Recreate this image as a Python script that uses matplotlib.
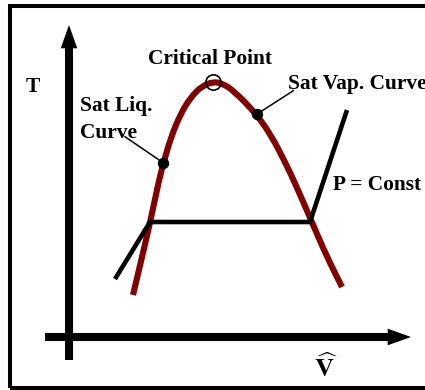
import matplotlib
matplotlib.use("Agg")
import matplotlib.pyplot as plt
from matplotlib.patches import Rectangle, Polygon, PathPatch
from matplotlib.path import Path

# ---- data (V, T) in chart units, origin at axis crossing ----
V_liq = [64, 73, 81, 90, 94.5, 102, 112, 122, 133, 144.5]
T_liq = [42, 80, 114, 157, 174, 200, 224, 240, 251, 255.3]
V_vap = [144.5, 153, 164, 187.7, 203, 215, 226, 242, 258, 273]
T_vap = [255.3, 253.5, 247, 222.7, 200, 177, 154, 117, 80, 50]

V_iso = [46, 81, 241, 278]
T_iso = [58, 115, 115, 227]

crit_pt = (144.5, 255.5)
liq_pt = (94.5, 174)
vap_pt = (187.7, 222.7)
liq_label_end = (56, 200.3)
vap_label_end = (224.3, 246.3)

labels = {
    "crit": ("Critical Point", 141.5, 272.5),
    "T": ("T", -36, 245.5),
    "liq1": ("Sat Liq.", 11, 226),
    "liq2": ("Curve", 11.5, 199.3),
    "vap": ("Sat Vap. Curve", 219.3, 248),
    "P": ("P = Const", 264.3, 147),
}

RED = "#800000"


def smooth_path(xs, ys):
    """Smooth quadratic path through the read points (drawn by matplotlib)."""
    pts = list(zip(xs, ys))
    verts = [pts[0]]
    codes = [Path.MOVETO]
    mid = lambda a, b: ((a[0] + b[0]) / 2, (a[1] + b[1]) / 2)
    verts.append(mid(pts[0], pts[1]))
    codes.append(Path.LINETO)
    for i in range(1, len(pts) - 1):
        verts += [pts[i], mid(pts[i], pts[i + 1])]
        codes += [Path.CURVE3, Path.CURVE3]
    verts.append(pts[-1])
    codes.append(Path.LINETO)
    return Path(verts, codes)


fig = plt.figure(figsize=(4.25, 3.9), dpi=100)
ax = fig.add_axes([0, 0, 1, 1])
ax.set_xlim(-69, 356)
ax.set_ylim(-53, 337)
ax.axis("off")

# frame
ax.add_patch(Rectangle((9.5 / 425, 1 - 388 / 390), 1.2, (388 - 5.7) / 390,
                       transform=ax.transAxes, fill=False, lw=2.9,
                       edgecolor="black", clip_on=False))

# axes arrows
ax.plot([0, 0], [-23, 289], color="black", lw=5.8, solid_capstyle="butt")
ax.add_patch(Polygon([[-8.3, 288.7], [8.3, 288.7], [0, 312]], closed=True,
                     color="black", lw=0))
ax.plot([-24, 319], [0, 0], color="black", lw=5.8, solid_capstyle="butt")
ax.add_patch(Polygon([[318.7, 8.3], [318.7, -8.3], [342, 0]], closed=True,
                     color="black", lw=0))

# dome
dome = smooth_path(V_liq + V_vap[1:], T_liq + T_vap[1:])
ax.add_patch(PathPatch(dome, fill=False, edgecolor=RED, lw=4.4,
                       capstyle="butt", joinstyle="round", zorder=3))

# isobar
ax.plot(V_iso, T_iso, color="black", lw=3.3, solid_capstyle="butt",
        solid_joinstyle="miter", zorder=4)

# leaders and points
ax.plot([liq_label_end[0], liq_pt[0]], [liq_label_end[1], liq_pt[1]],
        color="black", lw=1.1, zorder=5)
ax.plot([vap_pt[0], vap_label_end[0]], [vap_pt[1], vap_label_end[1]],
        color="black", lw=1.1, zorder=5)
ax.plot([liq_pt[0], vap_pt[0]], [liq_pt[1], vap_pt[1]], "o", color="black",
        ms=7.2, lw=0, zorder=6)
ax.plot([crit_pt[0]], [crit_pt[1]], "o", mfc="none", mec="black", ms=11,
        mew=1.2, zorder=6)

font = dict(family="Liberation Serif", weight="bold", size=15.4,
            va="baseline")
t, x, y = labels["crit"]
ax.text(x, y, t, ha="center", **font)
t, x, y = labels["T"]
ax.text(x, y, t, ha="center", **font)
for k in ("liq1", "liq2", "vap", "P"):
    t, x, y = labels[k]
    ax.text(x, y, t, ha="left", **font)

plt.rcParams["mathtext.fontset"] = "stix"
ax.text(257, -40, r"$\widehat{\mathbf{V}}$", ha="center", va="baseline",
        size=19)

fig.savefig("out.png", dpi=100)
